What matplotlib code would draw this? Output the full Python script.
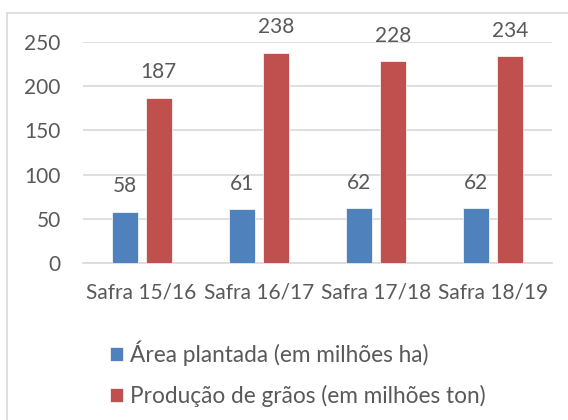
import matplotlib
matplotlib.use("Agg")
import matplotlib.pyplot as plt
import numpy as np
from matplotlib.patches import Rectangle

categories = ["Safra 15/16", "Safra 16/17", "Safra 17/18", "Safra 18/19"]
area_plantada = [58, 61, 62, 62]
producao_graos = [187, 238, 228, 234]
series_labels = ["Área plantada (em milhões ha)", "Produção de grãos (em milhões ton)"]
yticks = [0, 50, 100, 150, 200, 250]

BLUE = "#4F81BD"
RED = "#C0504D"
TEXT = "#595959"
GRID = "#D9D9D9"

plt.rcParams["font.family"] = ["Lato", "DejaVu Sans"]

fig = plt.figure(figsize=(5.68, 4.2), dpi=100)
fig.patches.append(Rectangle((7 / 568, -0.1), 1.2, 1 - 13 / 420 + 0.1, transform=fig.transFigure,
                             fill=False, edgecolor=GRID, linewidth=1.2))
ax = fig.add_axes([83 / 568, 1 - 263 / 420, 469 / 568, 221 / 420])

x = np.arange(len(categories))
width = 0.222
offset = 0.145
b1 = ax.bar(x - offset, area_plantada, width, color=BLUE, edgecolor="white", linewidth=0.5,
            label=series_labels[0], zorder=3)
b2 = ax.bar(x + offset, producao_graos, width, color=RED, edgecolor="white", linewidth=0.5,
            label=series_labels[1], zorder=3)

for bars, vals in ((b1, area_plantada), (b2, producao_graos)):
    for rect, v in zip(bars, vals):
        ax.annotate(str(v), (rect.get_x() + rect.get_width() / 2, v), xytext=(0, 11),
                    textcoords="offset points", ha="center", va="bottom", fontsize=15, color=TEXT)

ax.set_xlim(-0.5, len(categories) - 0.5)
ax.set_ylim(0, 250)
ax.set_yticks(yticks)
ax.set_xticks(x)
ax.set_xticklabels(categories)
ax.yaxis.grid(True, color=GRID, linewidth=1.2, zorder=0)
ax.set_axisbelow(True)
for side in ("top", "right", "left"):
    ax.spines[side].set_visible(False)
ax.spines["bottom"].set_color(GRID)
ax.spines["bottom"].set_linewidth(1.2)
ax.tick_params(axis="both", length=0, labelsize=15, labelcolor=TEXT)
ax.tick_params(axis="y", pad=16)
ax.tick_params(axis="x", pad=14)

leg = fig.legend(loc="upper left", bbox_to_anchor=(90 / 568, 1 - 320 / 420), frameon=False,
                 fontsize=16.3, handlelength=0.55, handleheight=0.55, handletextpad=0.3,
                 labelspacing=0.85, labelcolor=TEXT)

fig.savefig("out.png", dpi=100)
